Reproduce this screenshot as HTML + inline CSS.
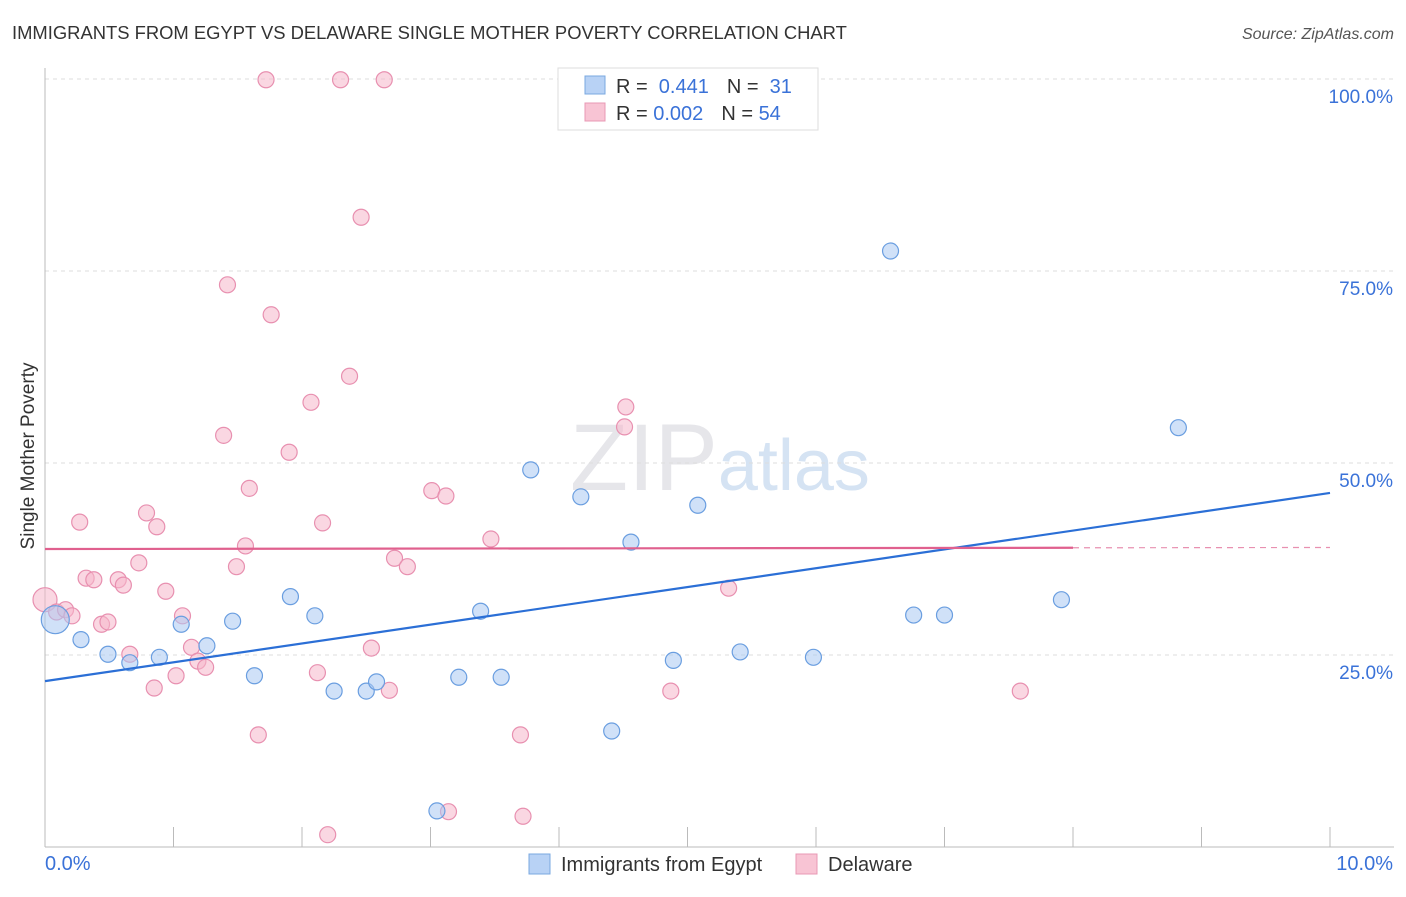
<!DOCTYPE html>
<html><head><meta charset="utf-8"><style>
body{margin:0;background:#fff;font-family:"Liberation Sans",sans-serif}
svg text{font-family:"Liberation Sans",sans-serif}
</style></head><body>
<svg id="chart" width="1406" height="892" xmlns="http://www.w3.org/2000/svg">
<text x="12" y="39" font-size="18.4" fill="#333">IMMIGRANTS FROM EGYPT VS DELAWARE SINGLE MOTHER POVERTY CORRELATION CHART</text>
<text x="1394" y="39" font-size="16" fill="#555" text-anchor="end" font-style="italic">Source: ZipAtlas.com</text>
<text transform="translate(34,456) rotate(-90)" font-size="19" fill="#333" text-anchor="middle">Single Mother Poverty</text>
<text x="720" y="490" font-size="95" fill="#e6e6ea" text-anchor="middle" font-family="Liberation Serif">ZIP<tspan fill="#d5e3f3" font-family="Liberation Sans" font-size="72">atlas</tspan></text>
<g id="grid"></g><g id="pts"></g><g id="lines"></g>
<g>
<rect x="558" y="68" width="260" height="62" fill="#fff" stroke="#ddd"/>
<rect x="585" y="76" width="20" height="18" fill="#b8d2f5" stroke="#7aa8e0"/>
<text x="616" y="93" font-size="20" fill="#333">R = <tspan fill="#3a72d8">&#160;0.441</tspan><tspan dx="18">N = </tspan><tspan fill="#3a72d8">&#160;31</tspan></text>
<rect x="585" y="103" width="20" height="18" fill="#f8c4d4" stroke="#e898b4"/>
<text x="616" y="120" font-size="20" fill="#333">R = <tspan fill="#3a72d8">0.002</tspan><tspan dx="18">N = </tspan><tspan fill="#3a72d8">54</tspan></text>
</g>
<g>
<rect x="529" y="854" width="21" height="20" fill="#b8d2f5" stroke="#7aa8e0"/>
<text x="561" y="871" font-size="20" fill="#333">Immigrants from Egypt</text>
<rect x="796" y="854" width="21" height="20" fill="#f8c4d4" stroke="#e898b4"/>
<text x="828" y="871" font-size="20" fill="#333">Delaware</text>
</g>
</svg>
<script>
const yTicks=[25,50,75,100];
const yTickLabels=["25.0%","50.0%","75.0%","100.0%"];
const xTickLabels=["0.0%","10.0%"];
const blueX=[0.08,0.28,0.49,0.66,0.89,1.06,1.26,1.46,1.63,1.91,2.10,2.25,2.50,2.58,3.22,3.39,3.55,3.78,4.17,4.41,4.56,4.89,5.08,5.41,5.98,6.58,6.76,7.00,7.91,8.82,3.05];
const blueY=[29.6,27.0,25.1,24.0,24.7,29.0,26.2,29.4,22.3,32.6,30.1,20.3,20.3,21.5,22.1,30.7,22.1,49.1,45.6,15.1,39.7,24.3,44.5,25.4,24.7,77.6,30.2,30.2,32.2,54.6,4.7];
const pinkX=[0,0.09,0.16,0.21,0.27,0.32,0.38,0.44,0.49,0.57,0.61,0.66,0.73,0.79,0.85,0.87,0.94,1.02,1.07,1.14,1.19,1.25,1.39,1.42,1.49,1.56,1.59,1.66,1.72,1.76,1.90,2.07,2.12,2.16,2.20,2.30,2.37,2.46,2.54,2.64,2.68,2.72,2.82,3.01,3.12,3.14,3.47,3.70,3.72,4.51,4.52,4.87,5.32,7.59];
const pinkY=[32.2,30.6,30.9,30.1,42.3,35.0,34.8,29.0,29.3,34.8,34.1,25.1,37.0,43.5,20.7,41.7,33.3,22.3,30.1,26.0,24.2,23.4,53.6,73.2,36.5,39.2,46.7,14.6,99.9,69.3,51.4,57.9,22.7,42.2,1.6,99.9,61.3,82.0,25.9,99.9,20.4,37.6,36.5,46.4,45.7,4.6,40.1,14.6,4.0,54.7,57.3,20.3,33.7,20.3];
const blueLine=[21.6,46.1];
const pinkLine=[38.8,39.0];
const NS="http://www.w3.org/2000/svg";
const X=v=>45+v*128.5, Y=v=>847-v*7.68;
function mk(tag,attrs,parent){const e=document.createElementNS(NS,tag);for(const k in attrs)e.setAttribute(k,attrs[k]);parent.appendChild(e);return e;}
const grid=document.getElementById('grid'),pts=document.getElementById('pts'),lines=document.getElementById('lines');
yTicks.forEach((t,i)=>{
 const l=mk('line',{x1:45,x2:1394,y1:Y(t),y2:Y(t),stroke:'#ddd','stroke-dasharray':'4,4'},grid);
 
 
 const tx=mk('text',{x:1393,y:Y(t)+24,'font-size':19,fill:'#3a72d8','text-anchor':'end'},grid);
 tx.textContent=yTickLabels[i];
 
 
});
const ax=mk('line',{x1:45,x2:45,y1:68,y2:847,stroke:'#bbb'},grid);


const bx=mk('line',{x1:45,x2:1394,y1:847,y2:847,stroke:'#bbb'},grid);


for(let i=0;i<=10;i++){const t=mk('line',{x1:X(i),x2:X(i),y1:827,y2:847,stroke:'#bbb'},grid);
 
 }
[[0,'start',45],[10,'end',1393]].forEach((d,i)=>{const t=mk('text',{x:d[2],y:870,'font-size':20,fill:'#3a72d8','text-anchor':d[1]},grid);t.textContent=xTickLabels[i];
 
 });
function dots(xs,ys,fill,stroke,name){xs.forEach((x,i)=>{const r=(i===0)?(name==='blue-point'?14:12):8;
 const c=mk('circle',{cx:X(x),cy:Y(ys[i]),r:r,fill:fill,'fill-opacity':0.55,stroke:stroke,'stroke-width':1.2},pts);
 
 });}
dots(pinkX,pinkY,'#f6b6ca','#e890b0','pink-point');
dots(blueX,blueY,'#a9c8f2','#6a9ee0','blue-point');
const bl=mk('line',{x1:X(0),y1:Y(blueLine[0]),x2:X(10),y2:Y(blueLine[1]),stroke:'#2b6fd6','stroke-width':2.2},lines);


const pm=pinkLine[0]+(pinkLine[1]-pinkLine[0])*0.8;
const pl=mk('line',{x1:X(0),y1:Y(pinkLine[0]),x2:X(8),y2:Y(pm),stroke:'#e0608e','stroke-width':2.2},lines);


const pd=mk('line',{x1:X(8),y1:Y(pm),x2:X(10),y2:Y(pinkLine[1]),stroke:'#e890b0','stroke-width':1.2,'stroke-dasharray':'6,5'},lines);


</script>
</body></html>
